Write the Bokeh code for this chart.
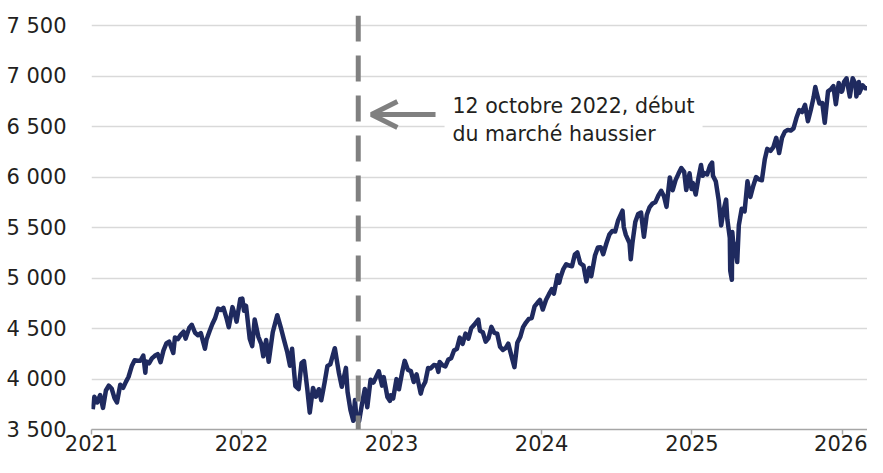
from datetime import datetime
import pandas as pd
from bokeh.plotting import figure
from bokeh.models import ColumnDataSource, Range1d, FixedTicker, Span, Arrow, OpenHead, Label
from bokeh.embed import file_html
from bokeh.resources import INLINE

# ---------------- data (S&P 500 close) ----------------
dates_2021 = ["2021-01-04", "2021-01-08", "2021-01-15", "2021-01-22", "2021-01-29", "2021-02-05", "2021-02-12",
              "2021-02-19", "2021-02-26", "2021-03-04", "2021-03-12", "2021-03-19", "2021-03-26", "2021-04-01",
              "2021-04-09", "2021-04-16", "2021-04-23", "2021-04-30", "2021-05-07", "2021-05-12", "2021-05-14",
              "2021-05-21", "2021-05-28", "2021-06-04", "2021-06-11", "2021-06-18", "2021-06-25", "2021-07-02",
              "2021-07-09", "2021-07-19", "2021-07-23", "2021-07-30", "2021-08-06", "2021-08-13", "2021-08-18",
              "2021-08-27", "2021-09-02", "2021-09-10", "2021-09-17", "2021-09-24", "2021-10-04", "2021-10-08",
              "2021-10-15", "2021-10-22", "2021-10-29", "2021-11-05", "2021-11-12", "2021-11-18", "2021-11-26",
              "2021-12-01", "2021-12-10", "2021-12-17", "2021-12-20", "2021-12-29", "2021-12-31"]
values_2021 = [3701, 3824, 3768, 3841, 3714, 3886, 3934, 3906, 3811, 3768, 3943, 3913, 3974, 4020,
               4128, 4185, 4180, 4181, 4232, 4063, 4174, 4156, 4204, 4230, 4247, 4166, 4281, 4352,
               4370, 4258, 4412, 4395, 4437, 4468, 4400, 4509, 4537, 4458, 4433, 4455, 4300, 4391,
               4471, 4545, 4605, 4697, 4683, 4705, 4595, 4513, 4712, 4621, 4568, 4793, 4766]

dates_2022 = ["2022-01-03", "2022-01-07", "2022-01-12", "2022-01-21", "2022-01-27", "2022-02-02", "2022-02-11",
              "2022-02-18", "2022-02-23", "2022-03-02", "2022-03-08", "2022-03-18", "2022-03-29", "2022-04-08",
              "2022-04-14", "2022-04-22", "2022-04-29", "2022-05-04", "2022-05-12", "2022-05-20", "2022-05-27",
              "2022-06-02", "2022-06-10", "2022-06-16", "2022-06-24", "2022-07-01", "2022-07-08", "2022-07-14",
              "2022-07-22", "2022-07-29", "2022-08-05", "2022-08-16", "2022-08-26", "2022-09-02", "2022-09-12",
              "2022-09-16", "2022-09-23", "2022-09-30", "2022-10-04", "2022-10-07", "2022-10-12", "2022-10-14",
              "2022-10-21", "2022-10-28", "2022-11-03", "2022-11-11", "2022-11-18", "2022-11-25", "2022-12-01",
              "2022-12-09", "2022-12-13", "2022-12-22", "2022-12-28", "2022-12-30"]
values_2022 = [4797, 4677, 4726, 4398, 4326, 4589, 4418, 4349, 4225, 4387, 4170, 4463, 4632, 4488,
               4393, 4272, 4132, 4300, 3930, 3901, 4158, 4177, 3901, 3667, 3912, 3825, 3899, 3790,
               3962, 4130, 4145, 4305, 4058, 3924, 4110, 3873, 3693, 3586, 3791, 3640, 3577, 3583,
               3752, 3901, 3720, 3993, 3965, 4026, 4077, 3934, 4019, 3822, 3783, 3840]

dates_2023 = ["2023-01-05", "2023-01-13", "2023-01-19", "2023-01-27", "2023-02-02", "2023-02-10", "2023-02-17",
              "2023-02-24", "2023-03-03", "2023-03-13", "2023-03-17", "2023-03-24", "2023-03-31", "2023-04-06",
              "2023-04-14", "2023-04-21", "2023-04-25", "2023-04-28", "2023-05-05", "2023-05-12", "2023-05-19",
              "2023-05-26", "2023-06-02", "2023-06-09", "2023-06-16", "2023-06-23", "2023-06-30", "2023-07-07",
              "2023-07-14", "2023-07-21", "2023-07-31", "2023-08-04", "2023-08-11", "2023-08-18", "2023-08-25",
              "2023-09-01", "2023-09-08", "2023-09-15", "2023-09-22", "2023-09-29", "2023-10-06", "2023-10-12",
              "2023-10-20", "2023-10-27", "2023-11-03", "2023-11-10", "2023-11-17", "2023-11-24", "2023-12-01",
              "2023-12-08", "2023-12-15", "2023-12-22", "2023-12-28", "2023-12-29"]
values_2023 = [3808, 3999, 3899, 4071, 4180, 4090, 4079, 3970, 4046, 3855, 3917, 3971, 4109, 4105,
               4138, 4133, 4071, 4169, 4136, 4124, 4192, 4205, 4282, 4299, 4410, 4348, 4450, 4399,
               4505, 4536, 4589, 4478, 4464, 4370, 4406, 4516, 4457, 4450, 4320, 4288, 4308, 4350,
               4224, 4117, 4358, 4415, 4514, 4559, 4595, 4604, 4719, 4755, 4783, 4770]

dates_2024 = ["2024-01-04", "2024-01-12", "2024-01-19", "2024-01-26", "2024-01-31", "2024-02-09", "2024-02-13",
              "2024-02-16", "2024-02-23", "2024-03-01", "2024-03-08", "2024-03-15", "2024-03-22", "2024-03-28",
              "2024-04-04", "2024-04-12", "2024-04-19", "2024-04-26", "2024-05-01", "2024-05-10", "2024-05-17",
              "2024-05-24", "2024-05-30", "2024-06-07", "2024-06-14", "2024-06-21", "2024-06-28", "2024-07-05",
              "2024-07-16", "2024-07-19", "2024-07-24", "2024-08-02", "2024-08-05", "2024-08-09", "2024-08-16",
              "2024-08-23", "2024-08-30", "2024-09-06", "2024-09-13", "2024-09-20", "2024-09-27", "2024-10-04",
              "2024-10-11", "2024-10-18", "2024-10-25", "2024-10-31", "2024-11-08", "2024-11-15", "2024-11-22",
              "2024-11-29", "2024-12-06", "2024-12-13", "2024-12-18", "2024-12-26", "2024-12-31"]
values_2024 = [4688, 4784, 4840, 4891, 4846, 5027, 4953, 5006, 5089, 5137, 5124, 5117, 5234, 5254,
               5147, 5123, 4967, 5100, 5018, 5223, 5303, 5305, 5236, 5347, 5432, 5465, 5460, 5567,
               5667, 5505, 5427, 5346, 5186, 5344, 5554, 5634, 5648, 5408, 5626, 5703, 5738, 5751,
               5815, 5864, 5808, 5705, 5996, 5870, 5969, 6032, 6090, 6051, 5872, 6037, 5882]

dates_2025 = ["2025-01-03", "2025-01-10", "2025-01-17", "2025-01-23", "2025-01-27", "2025-01-31", "2025-02-07",
              "2025-02-14", "2025-02-19", "2025-02-21", "2025-02-28", "2025-03-07", "2025-03-13", "2025-03-19",
              "2025-03-25", "2025-03-28", "2025-04-03", "2025-04-04", "2025-04-08", "2025-04-09", "2025-04-11",
              "2025-04-17", "2025-04-21", "2025-04-25", "2025-05-02", "2025-05-09", "2025-05-16", "2025-05-23",
              "2025-05-30", "2025-06-06", "2025-06-13", "2025-06-20", "2025-06-27", "2025-07-03", "2025-07-11",
              "2025-07-18", "2025-07-25", "2025-08-01", "2025-08-08", "2025-08-15", "2025-08-22", "2025-08-29",
              "2025-09-05", "2025-09-12", "2025-09-19", "2025-09-26", "2025-10-03", "2025-10-10", "2025-10-17",
              "2025-10-24", "2025-10-28", "2025-10-31", "2025-11-07", "2025-11-14", "2025-11-20", "2025-11-28",
              "2025-12-05", "2025-12-11", "2025-12-17", "2025-12-24", "2025-12-31"]
values_2025 = [5942, 5827, 5997, 6119, 6012, 6041, 6026, 6115, 6144, 6013, 5955, 5770, 5521, 5675,
               5777, 5581, 5397, 5074, 4983, 5457, 5363, 5283, 5158, 5525, 5687, 5660, 5958, 5803,
               5912, 6000, 5977, 5968, 6173, 6279, 6260, 6297, 6389, 6238, 6389, 6450, 6467, 6460,
               6482, 6584, 6664, 6644, 6716, 6553, 6664, 6792, 6891, 6840, 6728, 6734, 6538, 6849,
               6870, 6901, 6721, 6932, 6845]

dates_2026 = ["2026-01-02", "2026-01-06", "2026-01-12", "2026-01-20", "2026-01-27", "2026-02-03", "2026-02-05",
              "2026-02-11", "2026-02-12", "2026-02-20", "2026-02-24", "2026-02-27", "2026-03-03"]
values_2026 = [6858, 6944, 6977, 6797, 6979, 6917, 6798, 6941, 6833, 6909, 6890, 6879, 6880]

years = [2021, 2022, 2023, 2024, 2025, 2026]
year_labels = ["2021", "2022", "2023", "2024", "2025", "2026"]
y_ticks = [3500, 4000, 4500, 5000, 5500, 6000, 6500, 7000, 7500]
y_tick_labels = ["3 500", "4 000", "4 500", "5 000", "5 500", "6 000", "6 500", "7 000", "7 500"]

event_date = "2022-10-12"
annotation_text = "12 octobre 2022, début\ndu marché haussier"
arrow_tip_date, arrow_tail_date, arrow_level = "2022-11-13", "2023-04-18", 6619
label_date, label_level = "2023-05-10", 6902

# ---------------- build ----------------
def ms(d):
    return pd.Timestamp(d).value / 1e6

dates = pd.to_datetime(dates_2021 + dates_2022 + dates_2023 + dates_2024 + dates_2025 + dates_2026)
values = values_2021 + values_2022 + values_2023 + values_2024 + values_2025 + values_2026
source = ColumnDataSource(dict(date=dates, close=values))

FONT = "DejaVu Sans"
TEXT = "#231f20"

p = figure(width=867, height=457, x_axis_type="datetime", output_backend="svg", toolbar_location=None,
           x_range=Range1d(datetime(2021, 1, 1), datetime(2026, 3, 4)), y_range=Range1d(3500, 7600),
           min_border_left=91, min_border_right=0, min_border_top=15, min_border_bottom=28)
p.outline_line_color = None
p.background_fill_color = "white"

p.line("date", "close", source=source, line_color="#1f2a5f", line_width=4.5, line_join="round")

year_ms = [ms(f"{y}-01-01") for y in years]
p.xaxis.ticker = FixedTicker(ticks=year_ms)
p.xaxis.major_label_overrides = {t: lab for t, lab in zip(year_ms, year_labels)}
p.xaxis.axis_line_color = "#a6a6a6"
p.xaxis.axis_line_width = 1.5
p.xaxis.major_tick_line_color = "#a6a6a6"
p.xaxis.major_tick_line_width = 1.5
p.xaxis.major_tick_out = 5
p.xaxis.major_tick_in = 0
p.xaxis.minor_tick_line_color = None
p.xaxis.major_label_standoff = 0
p.xaxis.major_label_text_font = FONT
p.xaxis.major_label_text_font_size = "21px"
p.xaxis.major_label_text_color = TEXT

p.yaxis.ticker = FixedTicker(ticks=y_ticks)
p.yaxis.major_label_overrides = {t: lab for t, lab in zip(y_ticks, y_tick_labels)}
p.yaxis.axis_line_color = None
p.yaxis.major_tick_line_color = None
p.yaxis.minor_tick_line_color = None
p.yaxis.major_label_standoff = 19
p.yaxis.major_label_text_font = FONT
p.yaxis.major_label_text_font_size = "21px"
p.yaxis.major_label_text_color = TEXT

p.xgrid.visible = False
p.ygrid.ticker = FixedTicker(ticks=y_ticks)
p.ygrid.grid_line_color = "#d9d9d9"
p.ygrid.grid_line_width = 1.5

p.add_layout(Span(location=ms(event_date), dimension="height", line_color="#808080",
                  line_width=5, line_dash="26 14"))

p.add_layout(Arrow(x_start=ms(arrow_tail_date), y_start=arrow_level, x_end=ms(arrow_tip_date), y_end=arrow_level,
                   line_color="#808080", line_width=5,
                   end=OpenHead(size=26, line_color="#808080", line_width=5)))

p.add_layout(Label(x=ms(label_date), y=label_level, text=annotation_text, text_font=FONT,
                   text_font_size="20.5px", text_color=TEXT, text_baseline="top", text_line_height=1.15,
                   background_fill_color="white", padding=8))

open("out.html", "w").write(file_html(p, INLINE))
